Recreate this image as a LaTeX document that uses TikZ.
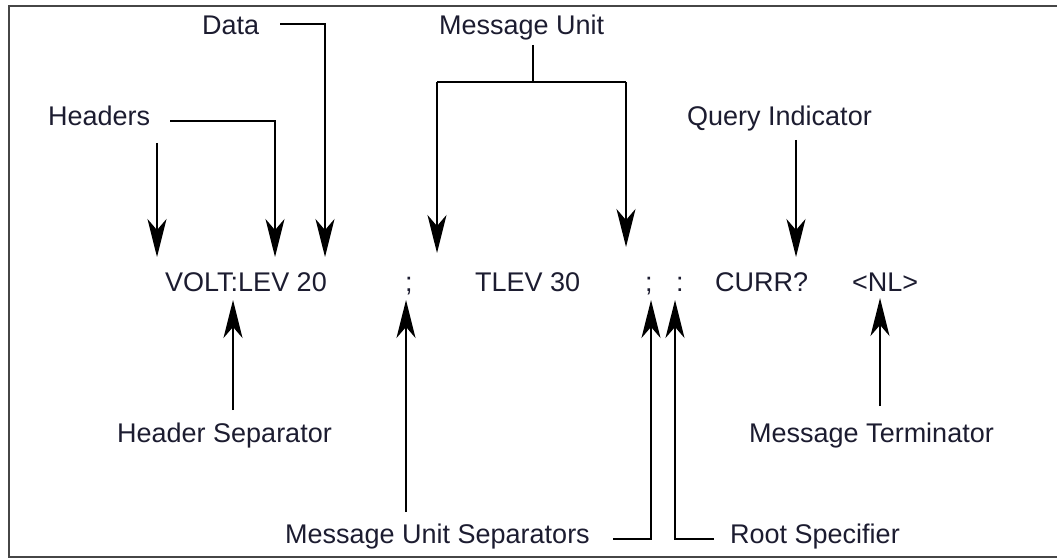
\documentclass[tikz,border=0pt]{standalone}
\usepackage{fontspec}
\setmainfont{Liberation Sans}
\usetikzlibrary{arrows.meta}
\definecolor{txt}{RGB}{28,28,48}
\definecolor{frame}{RGB}{70,70,70}
\begin{document}
\begin{tikzpicture}[x=1pt,y=-1pt,
  lbl/.style={inner sep=0pt,text=txt,font=\fontsize{27}{32}\selectfont},
  ln/.style={line width=1.7pt,black},
  arr/.style={ln,-{Stealth[length=38pt,width=19pt,inset=11pt]}}]
\useasboundingbox (0,0) rectangle (1057,559);
\draw[frame,line width=2.5pt] (1060,6) -- (9,6) -- (9,557) -- (1060,557);
% labels
\node[lbl,anchor=base west] (data) at (202,35) {Data};
\node[lbl,anchor=base west] (headers) at (48,125) {Headers};
\node[lbl,anchor=base west] (mu) at (439,35) {Message Unit};
\node[lbl,anchor=base west] (qi) at (687,125) {Query Indicator};
\node[lbl,anchor=base west] (cmd1) at (165,291) {VOLT:LEV 20};
\node[lbl,anchor=base west] (sc1) at (405,291) {;};
\node[lbl,anchor=base west] (cmd2) at (475,291) {TLEV 30};
\node[lbl,anchor=base west] (sc2) at (645,291) {;};
\node[lbl,anchor=base west] (col) at (676,291) {:};
\node[lbl,anchor=base west] (cmd3) at (715,291) {CURR?};
\node[lbl,anchor=base west] (nl) at (852,291) {<NL>};
\node[lbl,anchor=base west] (hs) at (117,442) {Header Separator};
\node[lbl,anchor=base west] (mt) at (749,442) {Message Terminator};
\node[lbl,anchor=base east] (mus) at (590,543) {Message Unit Separators};
\node[lbl,anchor=base west] (rs) at (730,543) {Root Specifier};
% coordinates
\coordinate (hA0) at (157,143); \coordinate (hA1) at (157,257);
\coordinate (hB0) at (170,121); \coordinate (hB1) at (275,257);
\coordinate (d0) at (280,24);   \coordinate (d1) at (325,257);
\coordinate (m0) at (533,45);   \coordinate (mj) at (533,82);
\coordinate (mL) at (437,82);   \coordinate (mL1) at (437,253);
\coordinate (mR) at (626,82);   \coordinate (mR1) at (626,247);
\coordinate (q0) at (796,140);  \coordinate (q1) at (796,257);
\coordinate (hs0) at (233,410); \coordinate (hs1) at (233,300);
\coordinate (s10) at (406,512); \coordinate (s11) at (406,300);
\coordinate (s20) at (613,539); \coordinate (s21) at (651,300);
\coordinate (r0) at (714,539);  \coordinate (r1) at (675,300);
\coordinate (t0) at (880,406);  \coordinate (t1) at (880,298);
% connectors
\draw[arr] (hA0) -- (hA1);
\draw[arr] (hB0) -| (hB1);
\draw[arr] (d0) -| (d1);
\draw[ln] (m0) -- (mj);
\draw[ln] (mL) -- (mR);
\draw[arr] (mL) -- (mL1);
\draw[arr] (mR) -- (mR1);
\draw[arr] (q0) -- (q1);
\draw[arr] (hs0) -- (hs1);
\draw[arr] (s10) -- (s11);
\draw[arr] (s20) -| (s21);
\draw[arr] (r0) -| (r1);
\draw[arr] (t0) -- (t1);
\end{tikzpicture}
\end{document}
